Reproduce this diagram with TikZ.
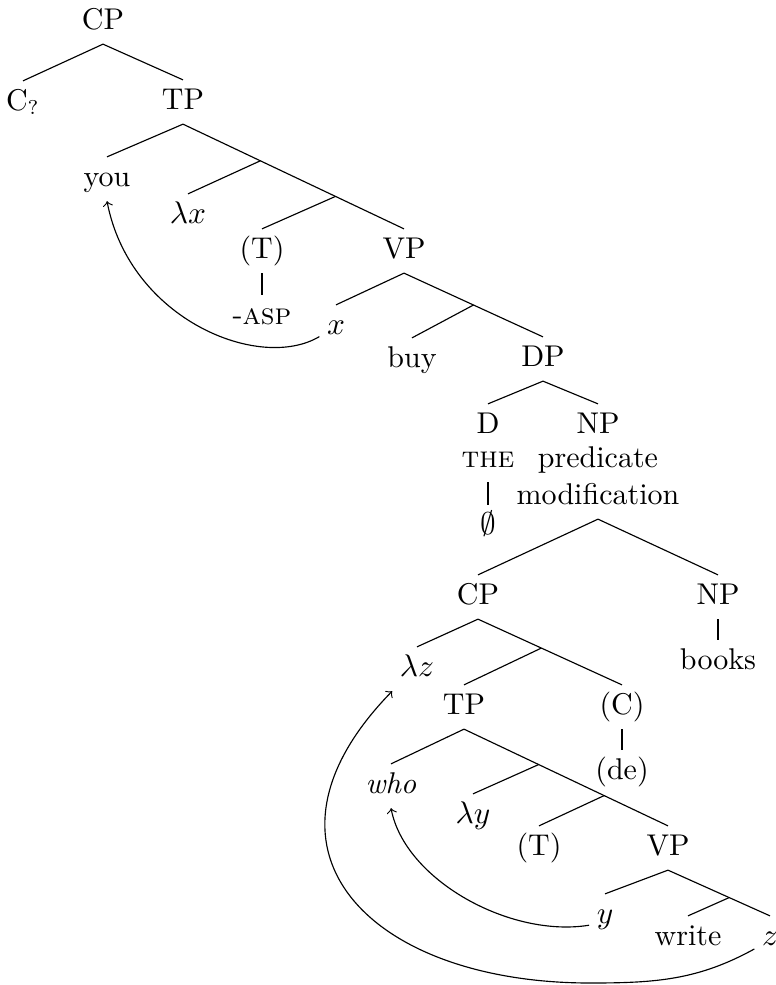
\documentclass[tikz,border=0pt]{standalone}
\usetikzlibrary{calc}
\begin{document}
\begin{tikzpicture}
        [x=0.35pt, y=-0.35pt,
         every node/.style={anchor=base, inner sep=2.5pt, text height=7.5pt, text depth=2.6pt,
                            font=\fontsize{10.5}{13}\selectfont},
         move/.style={->}]
        \useasboundingbox (0,0) rectangle (776,985);
        % main clause
        \node (cp) at (103,29) {CP};
        \node (cq) at (23,110) {C$_?$};
        \node (tp) at (183,109) {TP};
        \node (you) at (107,186) {you};
        \node (lx) at (188,223) {$\lambda x$};
        \node (t) at (262,258) {(T)};
        \node (vp) at (404,258) {VP};
        \node (asp) at (262,324) {-\textsc{asp}};
        \node (x) at (336,334) {$x$};
        \node (buy) at (412,367) {buy};
        \node (dp) at (543,366) {DP};
        \node (d) at (488,433) {D};
        \node (the) at (488,467) {\textsc{the}};
        \node (null) at (488,534) {$\emptyset$};
        \node (np) at (598,433) {NP};
        \node (pred) at (598,467) {predicate};
        \node (pm) at (598,504) {modification};
        % relative clause
        \node (rc) at (478,604) {CP};
        \node (npb) at (718,604) {NP};
        \node (books) at (718,669) {books};
        \node (lz) at (417,676) {$\lambda z$};
        \node (tpb) at (464,714) {TP};
        \node (c) at (622,714) {(C)};
        \node (de) at (622,779) {(de)};
        \node (who) at (391,793) {\emph{who}};
        \node (ly) at (473,823) {$\lambda y$};
        \node (tb) at (539,855) {(T)};
        \node (vpb) at (668,855) {VP};
        \node (y) at (605,923) {$y$};
        \node (write) at (688,945) {write};
        \node (z) at (770,945) {$z$};
        % branches
        \draw (cp.south) -- (cq.north);
        \draw (cp.south) -- (tp.north);
        \draw (tp.south) -- (you.north);
        \draw (tp.south) -- (vp.north);
        \coordinate (tp1) at ($(tp.south)!0.35!(vp.north)$);
        \coordinate (tp2) at ($(tp.south)!0.69!(vp.north)$);
        \draw (tp1) -- (lx.north);
        \draw (tp2) -- (t.north);
        \draw (t.south) -- (asp.north);
        \draw (vp.south) -- (x.north);
        \draw (vp.south) -- (dp.north);
        \coordinate (vp1) at ($(vp.south)!0.5!(dp.north)$);
        \draw (vp1) -- (buy.north);
        \draw (dp.south) -- (d.north);
        \draw (dp.south) -- (np.north);
        \draw (the.south) -- (null.north);
        \draw (pm.south) -- (rc.north);
        \draw (pm.south) -- (npb.north);
        \draw (npb.south) -- (books.north);
        \draw (rc.south) -- (lz.north);
        \draw (rc.south) -- (c.north);
        \coordinate (rc1) at ($(rc.south)!0.44!(c.north)$);
        \draw (rc1) -- (tpb.north);
        \draw (c.south) -- (de.north);
        \draw (tpb.south) -- (who.north);
        \draw (tpb.south) -- (vpb.north);
        \coordinate (tpb1) at ($(tpb.south)!0.366!(vpb.north)$);
        \coordinate (tpb2) at ($(tpb.south)!0.687!(vpb.north)$);
        \draw (tpb1) -- (ly.north);
        \draw (tpb2) -- (tb.north);
        \draw (vpb.south) -- (y.north);
        \draw (vpb.south) -- (z.north);
        \coordinate (vpb1) at ($(vpb.south)!0.6!(z.north)$);
        \draw (vpb1) -- (write.north);
        % movement
        \draw [move] (x.210) .. controls (260,372) and (130,320) .. (you.south);
        \draw [move] (y.210) .. controls (510,938) and (405,880) .. (who.south);
        \draw [move] (z.215) .. controls (698,980) and (656,983) .. (590,983)
                .. controls (369,983) and (238,849) .. (lz.south west);
    \end{tikzpicture}
\end{document}
